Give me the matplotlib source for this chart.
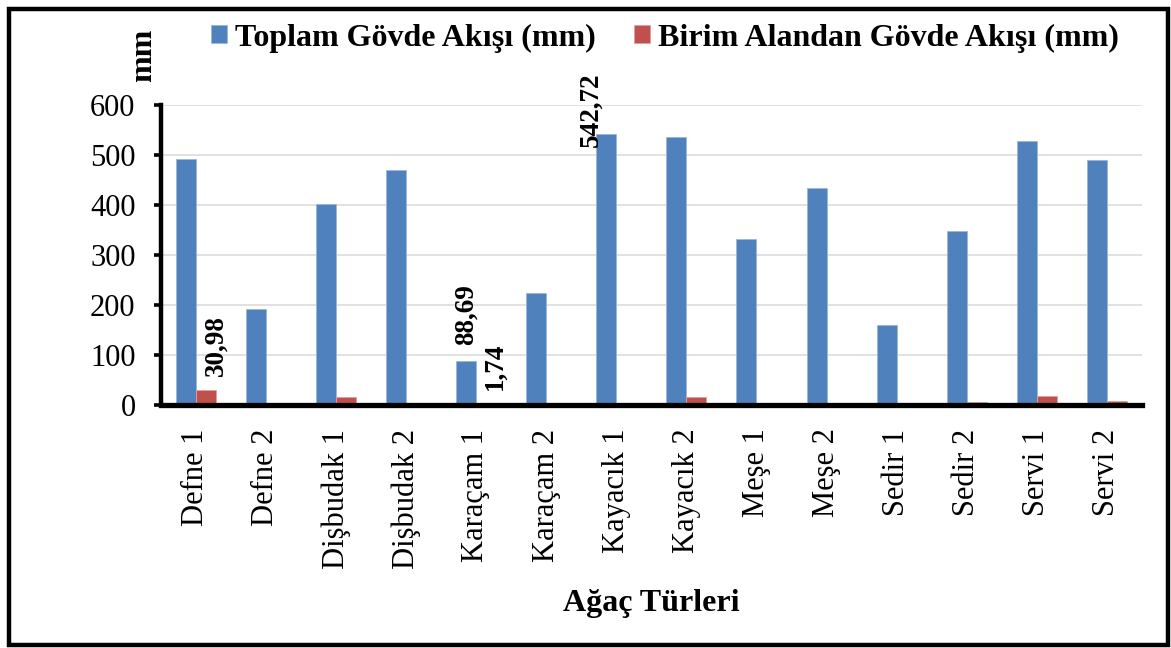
import numpy as np
import matplotlib.pyplot as plt
from matplotlib.patches import Rectangle

plt.rcParams['font.family'] = ['Liberation Serif', 'DejaVu Serif']

agaclar = ["Defne 1", "Defne 2", "Dişbudak 1", "Dişbudak 2", "Karaçam 1",
           "Karaçam 2", "Kayacık 1", "Kayacık 2", "Meşe 1", "Meşe 2",
           "Sedir 1", "Sedir 2", "Servi 1", "Servi 2"]
toplam = [492, 193, 403, 470, 88.69, 225, 542.72, 536, 333, 434, 161, 348, 528, 490]
birim = [30.98, 3, 17, 3, 1.74, 0.5, 4.5, 15.5, 5, 1.5, 0, 5.5, 18, 8]
yticks = [0, 100, 200, 300, 400, 500, 600]

# which bars get a value label: (series, index, dx px, dy px)
etiketler = [("b", 0, 11, 14), ("b", 4, 9, 14), ("t", 4, 0, 16), ("t", 6, -15, -13)]

mavi = "#4F81BD"
kirmizi = "#C0504D"

fig = plt.figure(figsize=(11.71, 6.48), dpi=100)
ax = fig.add_axes([0.1371, 0.375, 0.9752 - 0.1371, 300 / 648])

x = np.arange(len(agaclar))
w = 0.285
ax.bar(x - w / 2, toplam, w, color=mavi, edgecolor="#9db6d9", linewidth=0.6, zorder=3,
       label="Toplam Gövde Akışı (mm)")
ax.bar(x + w / 2, birim, w, color=kirmizi, edgecolor="#e0a09e", linewidth=0.6, zorder=3,
       label="Birim Alandan Gövde Akışı (mm)")

ax.set_xlim(-0.5, len(agaclar) - 0.5)
ax.set_ylim(0, 600)
ax.set_yticks(yticks)
ax.set_xticks(x)
ax.set_xticklabels(agaclar, rotation=90, fontsize=22)
ax.yaxis.grid(True, color="#d9d9d9", linewidth=1.1, zorder=0)

for s in ["top", "right"]:
    ax.spines[s].set_visible(False)
ax.spines["left"].set_linewidth(3.2)
ax.spines["bottom"].set_linewidth(3.8)
ax.spines["bottom"].set_zorder(4)
ax.tick_params(axis="y", labelsize=22, length=5, width=2.6, pad=13)
ax.tick_params(axis="x", length=0, pad=17)

for seri, i, dx, dy in etiketler:
    if seri == "t":
        xv, yv = x[i] - w / 2, toplam[i]
    else:
        xv, yv = x[i] + w / 2, birim[i]
    metin = f"{yv:.2f}".replace(".", ",")
    ax.annotate(metin, (xv, yv), xytext=(dx * 0.72, dy * 0.72), textcoords="offset points",
                rotation=90, ha="center", va="bottom", fontsize=19.5, fontweight="bold",
                zorder=5)

fig.legend(loc="center left", bbox_to_anchor=(211 / 1171, 1 - 38 / 648), ncol=2,
           frameon=False, fontsize=23, prop={"weight": "bold", "size": 23},
           handlelength=0.5, handleheight=0.5, handletextpad=0.25,
           columnspacing=1.2, borderpad=0, borderaxespad=0)

fig.text(144 / 1171, 1 - 55 / 648, "mm", rotation=90, ha="center", va="center",
         fontsize=23, fontweight="bold")
fig.text(651 / 1171, 1 - 603 / 648, "Ağaç Türleri", ha="center", va="center",
         fontsize=23, fontweight="bold")

fig.patches.append(Rectangle((0.0073, 0.004), 0.9902, 0.982, transform=fig.transFigure,
                             fill=False, edgecolor="black", linewidth=3.2))

fig.savefig("out.png", dpi=100)
